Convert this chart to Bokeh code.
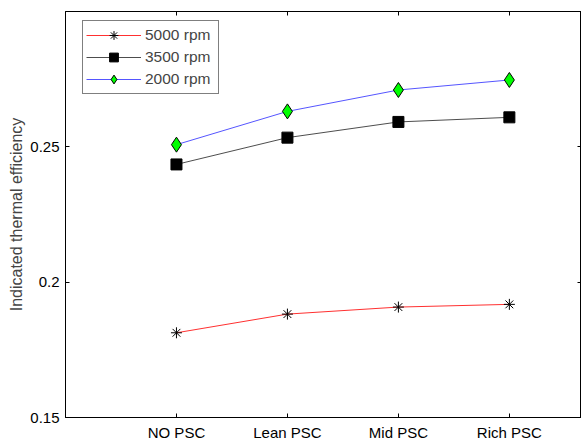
from bokeh.plotting import figure
from bokeh.models import (FixedTicker, LinearAxis, Range1d, Legend, LegendItem)
from bokeh.embed import file_html
from bokeh.resources import INLINE

# Indicated thermal efficiency per PSC strategy and engine speed
categories = ["NO PSC", "Lean PSC", "Mid PSC", "Rich PSC"]
x_pos = [1, 2, 3, 4]
eff_5000 = [0.1813, 0.1882, 0.1908, 0.1918]
eff_3500 = [0.2435, 0.2534, 0.2592, 0.2609]
eff_2000 = [0.2508, 0.2631, 0.2710, 0.2747]
y_ticks = [0.15, 0.2, 0.25]
y_tick_labels = ["0.15", "0.2", "0.25"]

FONT = "Liberation Sans"
FS = "15px"

p = figure(frame_width=516, frame_height=406,
           x_range=Range1d(0, 4.65), y_range=Range1d(0.15, 0.30),
           output_backend="svg", toolbar_location=None,
           min_border_left=65, min_border_top=11, min_border_bottom=20,
           min_border_right=0)
p.background_fill_color = "white"
p.border_fill_color = "white"
p.xgrid.visible = False
p.ygrid.visible = False
p.outline_line_color = "black"
p.outline_line_width = 1

def style_axis(ax, show_labels=True):
    ax.axis_line_color = "black"
    ax.major_tick_line_color = "black"
    ax.major_tick_in = 4
    ax.major_tick_out = 0
    ax.minor_tick_line_color = None
    ax.major_label_text_font = FONT
    ax.major_label_text_font_size = FS
    ax.major_label_text_color = "black"
    ax.major_label_standoff = 6
    if not show_labels:
        ax.major_label_text_alpha = 0
        ax.major_label_standoff = 0

xa = p.xaxis[0]
xa.ticker = FixedTicker(ticks=x_pos)
xa.major_label_overrides = {x: c for x, c in zip(x_pos, categories)}
style_axis(xa)

ya = p.yaxis[0]
ya.ticker = FixedTicker(ticks=y_ticks)
ya.major_label_overrides = {t: s for t, s in zip(y_ticks, y_tick_labels)}
style_axis(ya)
ya.axis_label = "Indicated thermal efficiency"
ya.axis_label_text_font = FONT
ya.axis_label_text_font_size = "16px"
ya.axis_label_text_font_style = "normal"
ya.axis_label_standoff = 2

# mirrored ticks on the top and right edges of the box
top = LinearAxis(ticker=FixedTicker(ticks=x_pos))
top.major_label_overrides = {x: "" for x in x_pos}
style_axis(top, show_labels=False)
p.add_layout(top, "above")
right = LinearAxis(ticker=FixedTicker(ticks=y_ticks))
right.major_label_overrides = {t: "" for t in y_ticks}
style_axis(right, show_labels=False)
p.add_layout(right, "right")

l1 = p.line(x_pos, eff_5000, line_color="#ff3030", line_width=1)
m1 = p.scatter(x_pos, eff_5000, marker="asterisk", size=11,
               line_color="black", line_width=1)
l2 = p.line(x_pos, eff_3500, line_color="#202020", line_width=0.8)
m2 = p.scatter(x_pos, eff_3500, marker="square", size=11,
               fill_color="black", line_color="black")
l3 = p.line(x_pos, eff_2000, line_color="#5555ff", line_width=1)
m3 = p.scatter(x_pos, eff_2000, marker="diamond", size=15,
               fill_color="#00ff00", line_color="black", line_width=1)

legend = Legend(items=[
    LegendItem(label="5000 rpm", renderers=[l1, m1]),
    LegendItem(label="3500 rpm", renderers=[l2, m2]),
    LegendItem(label="2000 rpm", renderers=[l3, m3]),
], location=(17, 323))
legend.label_text_font = FONT
legend.label_text_font_size = "15.5px"
legend.glyph_width = 55
legend.glyph_height = 22
legend.label_height = 22
legend.label_width = 70
legend.spacing = 0
legend.padding = 3
legend.label_standoff = 4
legend.border_line_color = "black"
legend.border_line_width = 1
legend.background_fill_alpha = 1
legend.margin = 0
p.add_layout(legend, "center")

open("out.html", "w").write(file_html(p, INLINE))
